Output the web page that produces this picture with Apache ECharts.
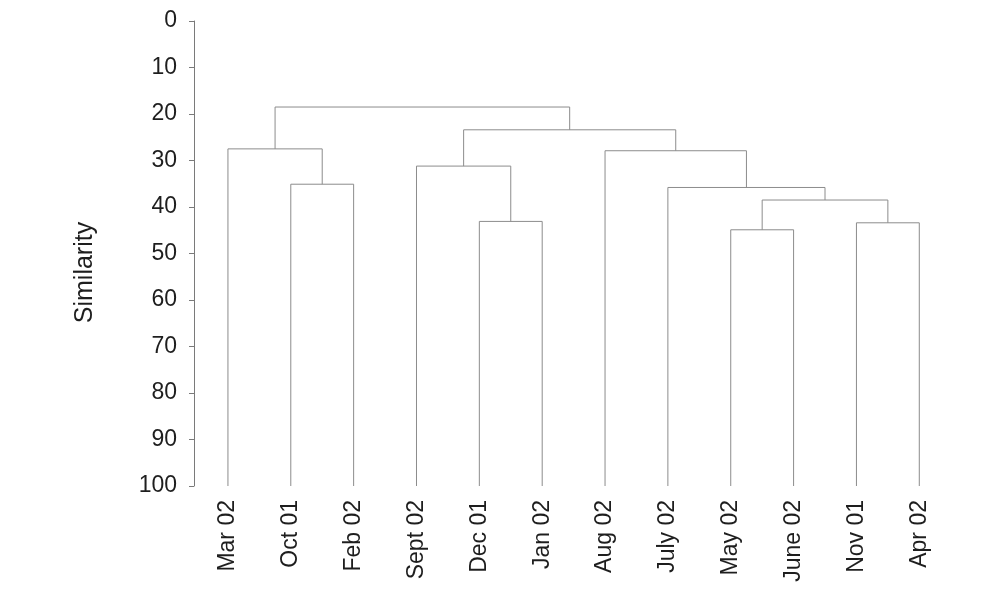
<!DOCTYPE html>
<html>
<head>
<meta charset="utf-8">
<script src="https://cdn.jsdelivr.net/npm/echarts@6/dist/echarts.min.js"></script>
<style>
html,body{margin:0;padding:0;background:#fff;}
#chart{width:984px;height:611px;}
</style>
</head>
<body>
<div id="chart"></div>
<script>
// Leaves in dendrogram order (left to right)
var leafNames = ['Mar 02','Oct 01','Feb 02','Sept 02','Dec 01','Jan 02','Aug 02','July 02','May 02','June 02','Nov 01','Apr 02'];
// Merge steps: node ids 0..11 are leaves, merge k creates node 12+k
var mergeLeft  = [1, 0, 4, 3, 8, 10, 16, 7, 6, 15, 13];
var mergeRight = [2, 12, 5, 14, 9, 11, 17, 18, 19, 20, 21];
var mergeSimilarity = [35.1, 27.5, 43.1, 31.2, 44.9, 43.4, 38.5, 35.8, 27.9, 23.4, 18.5];
var yTicks = [0,10,20,30,40,50,60,70,80,90,100];
var leafSimilarity = 100;

// node positions (x in leaf-index units, y in similarity units)
var nodeX = [], nodeY = [];
leafNames.forEach(function(n, i){ nodeX.push(i); nodeY.push(leafSimilarity); });
var links = [];
for (var k = 0; k < mergeLeft.length; k++) {
  var a = mergeLeft[k], b = mergeRight[k], s = mergeSimilarity[k];
  links.push([nodeX[a], nodeY[a], nodeX[b], nodeY[b], s]);
  nodeX.push((nodeX[a] + nodeX[b]) / 2);
  nodeY.push(s);
}

var chart = echarts.init(document.getElementById('chart'));
var lineColor = '#8c8c8c';
var font = 'Liberation Sans, Arial, sans-serif';
chart.setOption({
  animation: false,
  backgroundColor: '#ffffff',
  grid: { left: 194, top: 21, width: 763, height: 465 },
  xAxis: {
    type: 'value', min: -0.54, max: 11.6,
    axisLine: { show: false, onZero: false }, axisTick: { show: false }, minorTick: { show: false },
    splitLine: { show: false },
    axisLabel: {
      customValues: leafNames.map(function(n, i){ return i; }),
      formatter: function(v){ return leafNames[Math.round(v)]; },
      rotate: 90, margin: 14, color: '#1e1e1e', fontSize: 23, fontFamily: font
    }
  },
  yAxis: {
    type: 'value', inverse: true, min: 0, max: 100, interval: 10,
    name: 'Similarity', nameLocation: 'middle', nameGap: 96, nameRotate: 90,
    nameTextStyle: { fontSize: 25, color: '#1e1e1e', fontFamily: font, padding: [0, 38, 0, 0] },
    axisLine: { show: true, onZero: false, lineStyle: { color: '#7a7a7a', width: 1 } },
    axisTick: { show: true, length: 5, lineStyle: { color: '#7a7a7a' } },
    splitLine: { show: false },
    axisLabel: { margin: 17, color: '#1e1e1e', fontSize: 23, fontFamily: font,
      customValues: yTicks }
  },
  series: [{
    type: 'custom',
    data: links,
    encode: { x: [0, 2], y: [1, 3, 4] },
    renderItem: function(params, api){
      var p1 = api.coord([api.value(0), api.value(1)]);
      var p2 = api.coord([api.value(0), api.value(4)]);
      var p3 = api.coord([api.value(2), api.value(4)]);
      var p4 = api.coord([api.value(2), api.value(3)]);
      return {
        type: 'polyline',
        shape: { points: [p1, p2, p3, p4] },
        style: { stroke: lineColor, lineWidth: 1, fill: null }
      };
    }
  }]
});
</script>
</body>
</html>
